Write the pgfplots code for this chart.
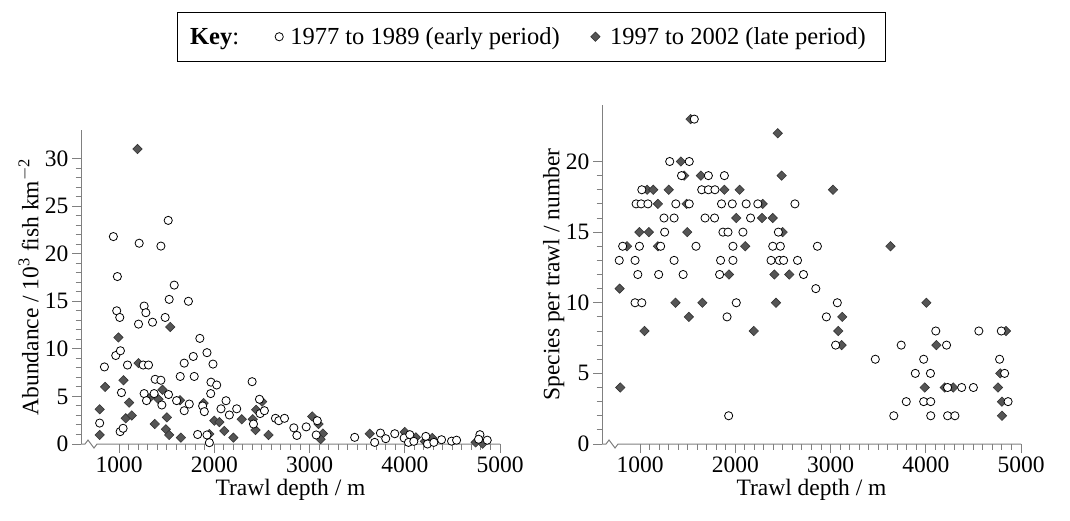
\documentclass[border=0pt]{standalone}
\usepackage{fontspec}
\setmainfont{Liberation Serif}
\usepackage{pgfplots}
\pgfplotsset{compat=1.18}
\definecolor{axgray}{HTML}{808080}
\definecolor{diafill}{HTML}{555555}
\definecolor{diaedge}{HTML}{333333}
\newcommand{\lfont}{\fontsize{23.5}{28}\selectfont}
\begin{document}
\begin{tikzpicture}
\path[use as bounding box] (0pt,0pt) rectangle (1070pt,520pt);
\pgfplotsset{
  myaxis/.style={
    scale only axis,
    xmin=600, xmax=5000,
    axis x line=bottom, axis y line=left,
    axis line style={-, draw=axgray, line width=1pt},
    axis x discontinuity=crunch,
    tick align=outside,
    major tick length=9pt, minor tick length=5.5pt,
    tick style={draw=axgray, line width=1pt},
    xtick={1000,2000,3000,4000,5000},
    minor x tick num=9,
    minor y tick num=4,
    scaled x ticks=false,
    /pgf/number format/1000 sep={},
    /pgf/number format/assume math mode=true,
    tick label style={font=\lfont, black},
    clip mode=individual,
  },
  circ/.style={only marks, mark=*, mark size=4.1pt, mark options={fill=white, draw=black, line width=0.8pt}},
  diam/.style={only marks, mark=square*, mark size=3.3pt, mark options={rotate=45, fill=diafill, draw=diaedge, line width=0.6pt}},
}
\begin{axis}[myaxis,
  at={(81pt,76pt)}, anchor=south west,
  width=419pt, height=314pt,
  ymin=0, ymax=33,
  ytick={0,5,...,30},
  xlabel={Trawl depth / m},
  ylabel={Abundance / 10\textsuperscript{3} fish km\textsuperscript{$-$2}},
  every axis x label/.style={at={(axis description cs:0.5,-0.1465)}, anchor=center, font=\lfont},
  every axis y label/.style={at={(axis description cs:-0.125,0.5)}, rotate=90, anchor=center, font=\lfont},
  legend style={at={(axis description cs:1.074,1.297)}, anchor=center, legend columns=-1,
    draw=black, font=\fontsize{24.5}{29}\selectfont, inner xsep=11pt, inner ysep=13pt},
  legend cell align=left,
]
\addlegendimage{empty legend}\addlegendentry{\textbf{Key}:\kern34pt}
\addlegendimage{circ}\addlegendentry{\kern5pt 1977 to 1989 (early period)\kern29pt}
\addlegendimage{diam}\addlegendentry{\kern8pt 1997 to 2002 (late period)\kern6pt}
\addplot[diam, forget plot] coordinates {
(1193,31.0) (993,11.2) (1537,12.3) (1204,8.5) (1046,6.7) (853,6.0) (1105,4.35) (1456,5.7)
(1316,4.8) (1414,4.7) (1639,4.6) (796,3.65) (796,0.95) (1070,2.7) (1133,3.0) (1375,2.1)
(1502,2.8) (1491,1.55) (1526,0.95) (1649,0.67) (1888,4.3) (2000,2.45) (2053,2.3) (2288,2.6)
(2105,1.37) (2200,0.67) (1948,1.05) (2502,4.45) (2439,3.6) (2404,2.6) (2432,1.47) (2569,0.95)
(3028,2.9) (3095,2.1) (3140,1.1) (3116,0.5) (3632,1.08) (4000,1.26) (4116,0.7) (4211,0.28)
(4288,0.63) (4744,0.17) (4818,0.03)
};
\addplot[circ, forget plot] coordinates {
(796,2.2) (846,8.1) (940,21.8) (965,9.3) (975,14.0) (982,17.6) (1007,13.3) (1014,9.8)
(1025,5.4) (1011,1.3) (1042,1.65) (1088,8.3) (1204,12.6) (1211,21.1) (1253,8.3) (1309,8.3)
(1263,14.5) (1281,13.8) (1263,5.3) (1288,4.56) (1368,5.3) (1351,12.8) (1379,6.8) (1439,6.7)
(1439,20.8) (1449,4.1) (1484,13.3) (1516,23.5) (1519,5.2) (1526,15.2) (1579,16.7) (1604,4.56)
(1642,7.1) (1684,8.5) (1684,3.5) (1728,15.0) (1737,4.2) (1779,9.2) (1789,7.1) (1825,1.0)
(1848,11.1) (1923,9.6) (1986,8.4) (1965,6.5) (2025,6.2) (1962,5.3) (1877,4.0) (1895,3.4)
(2123,4.55) (2070,3.7) (2235,3.7) (2158,3.05) (1923,0.95) (1948,0.14) (2397,6.55) (2474,4.7)
(2481,3.2) (2526,3.5) (2411,2.1) (2642,2.7) (2677,2.45) (2737,2.7) (2835,1.7) (2867,0.9)
(2965,1.8) (3081,2.45) (3070,0.95) (3474,0.7) (3684,0.17) (3744,1.15) (3800,0.56) (3895,1.08)
(3993,0.63) (4053,0.98) (4039,0.17) (4095,0.28) (4221,0.8) (4239,0.0) (4305,0.17) (4386,0.45)
(4491,0.3) (4544,0.4) (4789,0.98) (4775,0.5) (4866,0.4)
};
\end{axis}
\begin{axis}[myaxis,
  at={(602pt,76pt)}, anchor=south west,
  width=419pt, height=339pt,
  ymin=0, ymax=24,
  ytick={0,5,...,20},
  xlabel={Trawl depth / m},
  ylabel={Species per trawl / number},
  every axis x label/.style={at={(axis description cs:0.5,-0.1357)}, anchor=center, font=\lfont},
  every axis y label/.style={at={(axis description cs:-0.115,0.5)}, rotate=90, anchor=center, font=\lfont},
]
\addplot[diam] coordinates {
(1530,23) (2445,22) (1428,20) (1463,19) (1639,19) (2487,19)
(1074,18) (1138,18) (1300,18) (1885,18) (2045,18) (3026,18)
(1187,17) (1488,17) (2288,17) (2010,16) (2281,16) (2393,16)
(993,15) (1092,15) (1495,15) (2497,15) (863,14) (1187,14) (2104,14) (3629,14)
(1933,12) (2410,12) (2567,12) (785,11) (1371,10) (1654,10) (2427,10) (4006,10)
(1512,9) (3123,9) (1046,8) (2194,8) (3081,8) (4842,8) (3116,7) (4112,7)
(4782,5) (792,4) (3989,4) (4200,4) (4289,4) (4758,4) (4800,3) (4800,2)
};
\addplot[circ] coordinates {
(1569,23) (1311,20) (1516,20) (1435,19) (1717,19) (1885,19)
(1018,18) (1647,18) (1717,18) (1786,18)
(958,17) (1011,17) (1082,17) (1375,17) (1516,17) (1855,17) (1968,17) (2114,17) (2236,17) (2626,17)
(1251,16) (1357,16) (1682,16) (1782,16) (2160,16)
(1258,15) (1870,15) (1923,15) (2080,15) (2452,15)
(817,14) (993,14) (1216,14) (1587,14) (1975,14) (2393,14) (2473,14) (2862,14)
(781,13) (947,13) (1357,13) (1845,13) (1975,13) (2375,13) (2462,13) (2507,13) (2653,13)
(976,12) (1195,12) (1452,12) (1835,12) (2716,12) (2845,11)
(947,10) (1018,10) (2010,10) (3071,10) (1913,9) (2956,9)
(4105,8) (4557,8) (4793,8) (3053,7) (3742,7) (4218,7)
(3470,6) (3978,6) (4775,6) (3890,5) (4049,5) (4828,5)
(4229,4) (4377,4) (4500,4) (3795,3) (3978,3) (4052,3) (4864,3)
(1930,2) (3664,2) (4052,2) (4229,2) (4306,2)
};
\end{axis}
\end{tikzpicture}
\end{document}
